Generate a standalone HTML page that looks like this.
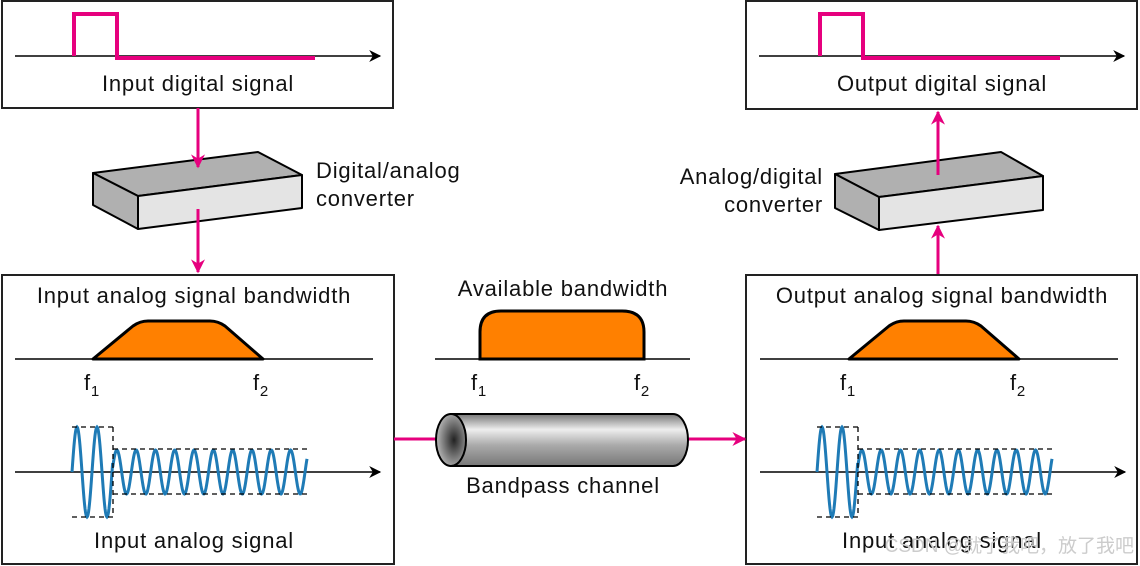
<!DOCTYPE html>
<html><head><meta charset="utf-8"><style>
html,body{margin:0;padding:0;background:#fff;width:1140px;height:566px;overflow:hidden}
svg text{font-family:"Liberation Sans",sans-serif;font-size:22px;letter-spacing:0.8px;fill:#111}
</style></head><body>
<svg id="s" width="1140" height="566" viewBox="0 0 1140 566" xmlns="http://www.w3.org/2000/svg">
<defs>
<marker id="ab" viewBox="0 0 10 10" refX="9" refY="5" markerWidth="16" markerHeight="12" markerUnits="userSpaceOnUse" orient="auto"><path d="M0,0 L10,5 L0,10 L3,5z" fill="#000"/></marker>
<marker id="ap" viewBox="0 0 10 10" refX="9" refY="5" markerWidth="16" markerHeight="14" markerUnits="userSpaceOnUse" orient="auto"><path d="M0,0 L10,5 L0,10 L3,5z" fill="#e6007e"/></marker>
<linearGradient id="cyl" x1="0" y1="0" x2="0" y2="1"><stop offset="0" stop-color="#777"/><stop offset="0.3" stop-color="#eee"/><stop offset="0.6" stop-color="#aaa"/><stop offset="1" stop-color="#777"/></linearGradient>
<radialGradient id="cend" cx="0.6" cy="0.5" r="0.6"><stop offset="0" stop-color="#222"/><stop offset="1" stop-color="#bbb"/></radialGradient>
</defs>
<g fill="none" stroke="#222" stroke-width="2">
<rect x="2" y="1" width="391" height="107"/>
<rect x="746" y="1" width="391" height="108"/>
<rect x="2" y="275" width="392" height="289"/>
<rect x="746" y="275" width="391" height="289"/>
</g>
<line x1="15" y1="56" x2="380" y2="56" stroke="#000" stroke-width="1.5" marker-end="url(#ab)"/>
<path d="M74,56 V14 H117 V58 H315" fill="none" stroke="#e6007e" stroke-width="4"/>
<text x="198" y="91" text-anchor="middle">Input digital signal</text>
<line x1="759" y1="56" x2="1124" y2="56" stroke="#000" stroke-width="1.5" marker-end="url(#ab)"/>
<path d="M820,56 V14 H863 V58 H1060" fill="none" stroke="#e6007e" stroke-width="4"/>
<text x="942" y="91" text-anchor="middle">Output digital signal</text>
<g stroke="#000" stroke-width="2" stroke-linejoin="round">
<polygon points="93,173 258,152 302,175 138,196" fill="#b0b0b0"/>
<polygon points="138,196 302,175 302,208 138,229" fill="#e4e4e4"/>
<polygon points="93,173 138,196 138,229 93,205" fill="#b0b0b0"/>
<polygon points="835,174 1001,152 1043,176 879,197" fill="#b0b0b0"/>
<polygon points="879,197 1043,176 1043,210 879,230" fill="#e4e4e4"/>
<polygon points="835,174 879,197 879,230 835,208" fill="#b0b0b0"/>
</g>
<text x="316" y="178">Digital/analog</text>
<text x="316" y="206">converter</text>
<text x="823" y="184" text-anchor="end">Analog/digital</text>
<text x="823" y="212" text-anchor="end">converter</text>
<g stroke="#e6007e" stroke-width="3">
<line x1="198" y1="108" x2="198" y2="167" marker-end="url(#ap)"/>
<line x1="198" y1="209" x2="198" y2="272" marker-end="url(#ap)"/>
<line x1="938" y1="175" x2="938" y2="112" marker-end="url(#ap)"/>
<line x1="938" y1="274" x2="938" y2="226" marker-end="url(#ap)"/>
<line x1="394" y1="439" x2="453" y2="439" marker-end="url(#ap)"/>
<line x1="688" y1="439" x2="745" y2="439" marker-end="url(#ap)"/>
</g>
<text x="194" y="303" text-anchor="middle">Input analog signal bandwidth</text>
<line x1="15" y1="359" x2="373" y2="359" stroke="#000" stroke-width="1.5"/>
<path d="M93,359 L133,326 Q140,321 148,321 L210,321 Q218,321 225,326 L263,359Z" fill="#ff8000" stroke="#000" stroke-width="3" stroke-linejoin="round"/>
<text x="942" y="303" text-anchor="middle">Output analog signal bandwidth</text>
<line x1="760" y1="359" x2="1118" y2="359" stroke="#000" stroke-width="1.5"/>
<path d="M849,359 L889,326 Q896,321 904,321 L966,321 Q974,321 981,326 L1019,359Z" fill="#ff8000" stroke="#000" stroke-width="3" stroke-linejoin="round"/>
<text x="563" y="296" text-anchor="middle">Available bandwidth</text>
<line x1="435" y1="359" x2="690" y2="359" stroke="#000" stroke-width="1.5"/>
<path d="M480,359 V332 Q480,311 501,311 H622 Q644,311 644,332 V359Z" fill="#ff8000" stroke="#000" stroke-width="3"/>
<g>
<text x="84" y="390">f<tspan font-size="15" dy="6">1</tspan></text>
<text x="253" y="390">f<tspan font-size="15" dy="6">2</tspan></text>
<text x="840" y="390">f<tspan font-size="15" dy="6">1</tspan></text>
<text x="1010" y="390">f<tspan font-size="15" dy="6">2</tspan></text>
<text x="471" y="390">f<tspan font-size="15" dy="6">1</tspan></text>
<text x="634" y="390">f<tspan font-size="15" dy="6">2</tspan></text>
</g>
<path d="M451,414 H673 A15,26 0 0 1 673,466 H451 Z" fill="url(#cyl)" stroke="#000" stroke-width="2"/>
<ellipse cx="451" cy="440" rx="15" ry="26" fill="url(#cend)" stroke="#000" stroke-width="2"/>
<text x="563" y="493" text-anchor="middle">Bandpass channel</text>
<g id="waves"></g>
<text x="194" y="548" text-anchor="middle">Input analog signal</text>
<text x="942" y="548" text-anchor="middle">Input analog signal</text>
<text x="1134" y="552" text-anchor="end" style="fill:#ccc;font-size:19px;letter-spacing:0;font-family:'Liberation Sans','Noto Sans CJK SC',sans-serif">CSDN @就了我吧，放了我吧</text>
</svg>
<script>
var g=document.getElementById('waves'),ns='http://www.w3.org/2000/svg';
function add(tag,attrs){var e=document.createElementNS(ns,tag);for(var k in attrs)e.setAttribute(k,attrs[k]);g.appendChild(e);}
[0,745].forEach(function(o){
 add('line',{x1:15+o,y1:472,x2:380+o,y2:472,stroke:'#000','stroke-width':1.5,'marker-end':'url(#ab)'});
 var d='M'+(72+o)+',472';
 for(var x=72;x<=307;x+=0.5){
  var y;
  if(x<113){y=472-45*Math.sin((x-72)/20*2*Math.PI);}
  else{y=472-22*Math.sin((x-113)/19.3*2*Math.PI+Math.PI*0.1);}
  d+=' L'+(x+o)+','+y.toFixed(1);
 }
 add('path',{d:d,fill:'none',stroke:'#1f7bb6','stroke-width':3});
 var ds={stroke:'#000','stroke-width':1.3,'stroke-dasharray':'5,4',fill:'none'};
 function dl(a,b,c,e){var at={x1:a+o,y1:b,x2:c+o,y2:e};for(var k in ds)at[k]=ds[k];add('line',at);}
 dl(72,427,113,427);dl(72,517,113,517);dl(113,427,113,517);dl(113,449,311,449);dl(113,494,311,494);
});
</script>
</body></html>
